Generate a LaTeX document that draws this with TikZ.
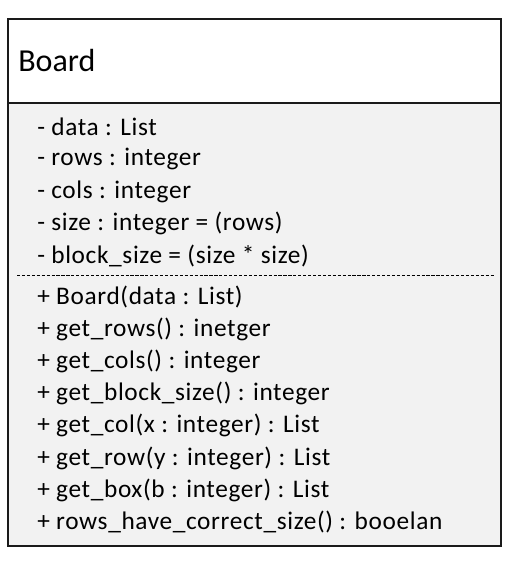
\documentclass[tikz,border=0pt]{standalone}
\usepackage{fontspec}
\setmainfont{Carlito}
\newfontfamily\umlfont[LetterSpace=2.5]{Carlito}
\usetikzlibrary{positioning}
\definecolor{bodygrey}{HTML}{F2F2F2}
\definecolor{edge}{HTML}{1A1A1A}

\begin{document}
\begin{tikzpicture}[x=0.75pt,y=-0.75pt,
  every node/.style={inner sep=0pt, anchor=west, font=\umlfont\fontsize{19pt}{23pt}\selectfont},
  part/.style={draw=edge, line width=1.5pt}]
\useasboundingbox (0,0) rectangle (516,566);
\draw[part, fill=white] (8,19) rectangle (501,103);
\draw[part, fill=bodygrey] (8,103) rectangle (501,546);
\node[font=\rmfamily\fontsize{24pt}{29pt}\selectfont] (title) at (18,61) {Board};
% attributes
\foreach \t [count=\i] in {- data : List, - rows : integer, - cols : integer,
  - size : integer = (rows), - block\_size = (size * size)}
  \node (attr\i) at (37,{127+(\i-1)*32.3}) {\t};
\draw[line width=0.7pt, dash pattern=on 2.4pt off 1.3pt] (17,275) -- (494,275);
% methods
\foreach \t [count=\i] in {+ Board(data : List), + get\_rows() : inetger,
  + get\_cols() : integer, + get\_block\_size() : integer,
  + get\_col(x : integer) : List, + get\_row(y : integer) : List,
  + get\_box(b : integer) : List, + rows\_have\_correct\_size() : booelan}
  \node (meth\i) at (37,{297+(\i-1)*32.2}) {\t};
\end{tikzpicture}
\end{document}
